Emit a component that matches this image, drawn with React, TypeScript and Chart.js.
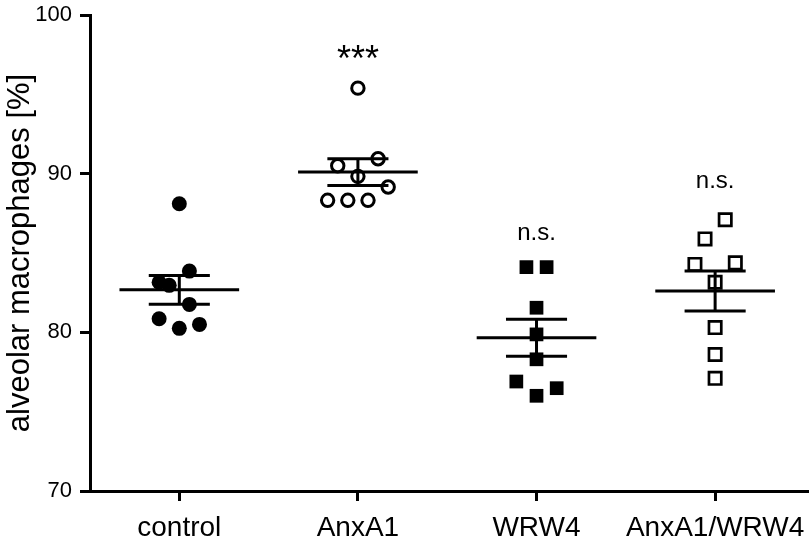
import React, { useEffect, useRef } from 'react';
import { Chart, registerables } from 'chart.js';

Chart.register(...registerables);

const categories = ['control', 'AnxA1', 'WRW4', 'AnxA1/WRW4'];

const controlValues = [88.1, 83.86, 83.16, 82.96, 81.76, 80.86, 80.5, 80.25];
const controlJitter = [0, 1, -2, -1, 1, -2, 2, 0];

const anxa1Values = [95.39, 90.94, 90.5, 89.83, 89.16, 88.32, 88.32, 88.32];
const anxa1Jitter = [0, 2, -2, 0, 3, -3, -1, 1];

const wrw4Values = [84.11, 84.11, 81.55, 79.87, 78.3, 76.9, 76.48, 76.0];
const wrw4Jitter = [-1, 1, 0, 0, 0, -2, 2, 0];

const comboValues = [87.1, 85.89, 84.28, 84.38, 83.16, 80.3, 78.6, 77.1];
const comboJitter = [1, -1, -2, 2, 0, 0, 0, 0];

const sigLabels = ['', '***', 'n.s.', 'n.s.'];
const sigBaseline = [NaN, 96.47, 85.82, 89.1];

const yTicks = [70, 80, 90, 100];

const FONT = '"Liberation Sans", Arial, Helvetica, sans-serif';
const SLOT = 0.0565; // jitter slot width in category units
const MEAN_HALF = 0.335;
const CAP_HALF = 0.171;

const groups = [
  { values: controlValues, jitter: controlJitter },
  { values: anxa1Values, jitter: anxa1Jitter },
  { values: wrw4Values, jitter: wrw4Jitter },
  { values: comboValues, jitter: comboJitter },
];

const pointStyles = [
  { pointStyle: 'circle', pointRadius: 7.5, pointBackgroundColor: '#000', pointBorderColor: '#000', pointBorderWidth: 0 },
  { pointStyle: 'circle', pointRadius: 6.2, pointBackgroundColor: 'rgba(0,0,0,0)', pointBorderColor: '#000', pointBorderWidth: 3 },
  { pointStyle: 'rect', pointRadius: 9.7, pointBackgroundColor: '#000', pointBorderColor: '#000', pointBorderWidth: 0 },
  { pointStyle: 'rect', pointRadius: 8.7, pointBackgroundColor: 'rgba(0,0,0,0)', pointBorderColor: '#000', pointBorderWidth: 2.7 },
];

function stats(vals: number[]) {
  const n = vals.length;
  const m = vals.reduce((a, b) => a + b, 0) / n;
  const v = vals.reduce((a, b) => a + (b - m) * (b - m), 0) / (n - 1);
  return { mean: m, sem: Math.sqrt(v) / Math.sqrt(n) };
}

const meanSemPlugin = {
  id: 'meanSem',
  afterDatasetsDraw(chart: any) {
    const { ctx, scales } = chart;
    const x = scales.x;
    const y = scales.y;
    ctx.save();
    ctx.strokeStyle = '#000';
    ctx.lineWidth = 3;
    ctx.lineCap = 'butt';
    groups.forEach((g, i) => {
      const { mean, sem } = stats(g.values);
      const cx = x.getPixelForValue(i);
      const ml = x.getPixelForValue(i - MEAN_HALF);
      const mr = x.getPixelForValue(i + MEAN_HALF);
      const cl = x.getPixelForValue(i - CAP_HALF);
      const cr = x.getPixelForValue(i + CAP_HALF);
      const ym = y.getPixelForValue(mean);
      const yt = y.getPixelForValue(mean + sem);
      const yb = y.getPixelForValue(mean - sem);
      ctx.beginPath();
      ctx.moveTo(ml, ym);
      ctx.lineTo(mr, ym);
      ctx.moveTo(cx, yt);
      ctx.lineTo(cx, yb);
      ctx.moveTo(cl, yt);
      ctx.lineTo(cr, yt);
      ctx.moveTo(cl, yb);
      ctx.lineTo(cr, yb);
      ctx.stroke();
    });
    ctx.fillStyle = '#000';
    ctx.textAlign = 'center';
    ctx.textBaseline = 'alphabetic';
    sigLabels.forEach((lab, i) => {
      if (!lab) return;
      ctx.font = (lab === '***' ? '36px ' : '24px ') + FONT;
      ctx.fillText(lab, x.getPixelForValue(i), y.getPixelForValue(sigBaseline[i]));
    });
    ctx.restore();
  },
};

export default function App() {
  const ref = useRef<HTMLCanvasElement>(null);
  useEffect(() => {
    if (!ref.current) return;
    const datasets = groups.map((g, i) => ({
      label: categories[i],
      data: g.values.map((v, k) => ({ x: i + g.jitter[k] * SLOT, y: v })),
      showLine: false,
      ...pointStyles[i],
    }));
    const chart = new Chart(ref.current, {
      type: 'scatter',
      data: { datasets },
      plugins: [meanSemPlugin],
      options: {
        animation: false,
        responsive: false,
        devicePixelRatio: 1,
        layout: { autoPadding: false, padding: { top: 15, right: 2, left: 0, bottom: 0 } },
        plugins: { legend: { display: false }, tooltip: { enabled: false } },
        scales: {
          x: {
            type: 'linear',
            min: -0.5,
            max: 3.52,
            afterBuildTicks: (s: any) => {
              s.ticks = categories.map((_, i) => ({ value: i }));
            },
            afterFit: (s: any) => {
              s.height = 57;
              s.paddingLeft = 0;
              s.paddingRight = 0;
            },
            ticks: {
              callback: (v: any) => categories[Math.round(Number(v))] ?? '',
              color: '#000',
              font: { family: FONT, size: 28 },
              padding: 10,
              maxRotation: 0,
              autoSkip: false,
            },
            grid: { drawOnChartArea: false, tickLength: 10, tickWidth: 3, color: '#000' },
            border: { width: 3, color: '#000' },
          },
          y: {
            type: 'linear',
            min: 70,
            max: 100,
            afterBuildTicks: (s: any) => {
              s.ticks = yTicks.map((v) => ({ value: v }));
            },
            afterFit: (s: any) => {
              s.width = 90;
              s.paddingTop = 0;
              s.paddingBottom = 0;
            },
            ticks: {
              color: '#000',
              font: { family: FONT, size: 22 },
              padding: 8,
            },
            grid: { drawOnChartArea: false, tickLength: 10, tickWidth: 3, color: '#000' },
            border: { width: 3, color: '#000' },
            title: {
              display: true,
              text: 'alveolar macrophages [%]',
              color: '#000',
              font: { family: FONT, size: 31 },
              padding: { top: 2, bottom: 0 },
            },
          },
        },
      },
    } as any);
    return () => chart.destroy();
  }, []);
  return (
    <div style={{ position: 'absolute', left: 0, top: 0, width: 810, height: 548, background: '#fff' }}>
      <canvas ref={ref} width={810} height={548} style={{ display: 'block', width: 810, height: 548 }} />
    </div>
  );
}
